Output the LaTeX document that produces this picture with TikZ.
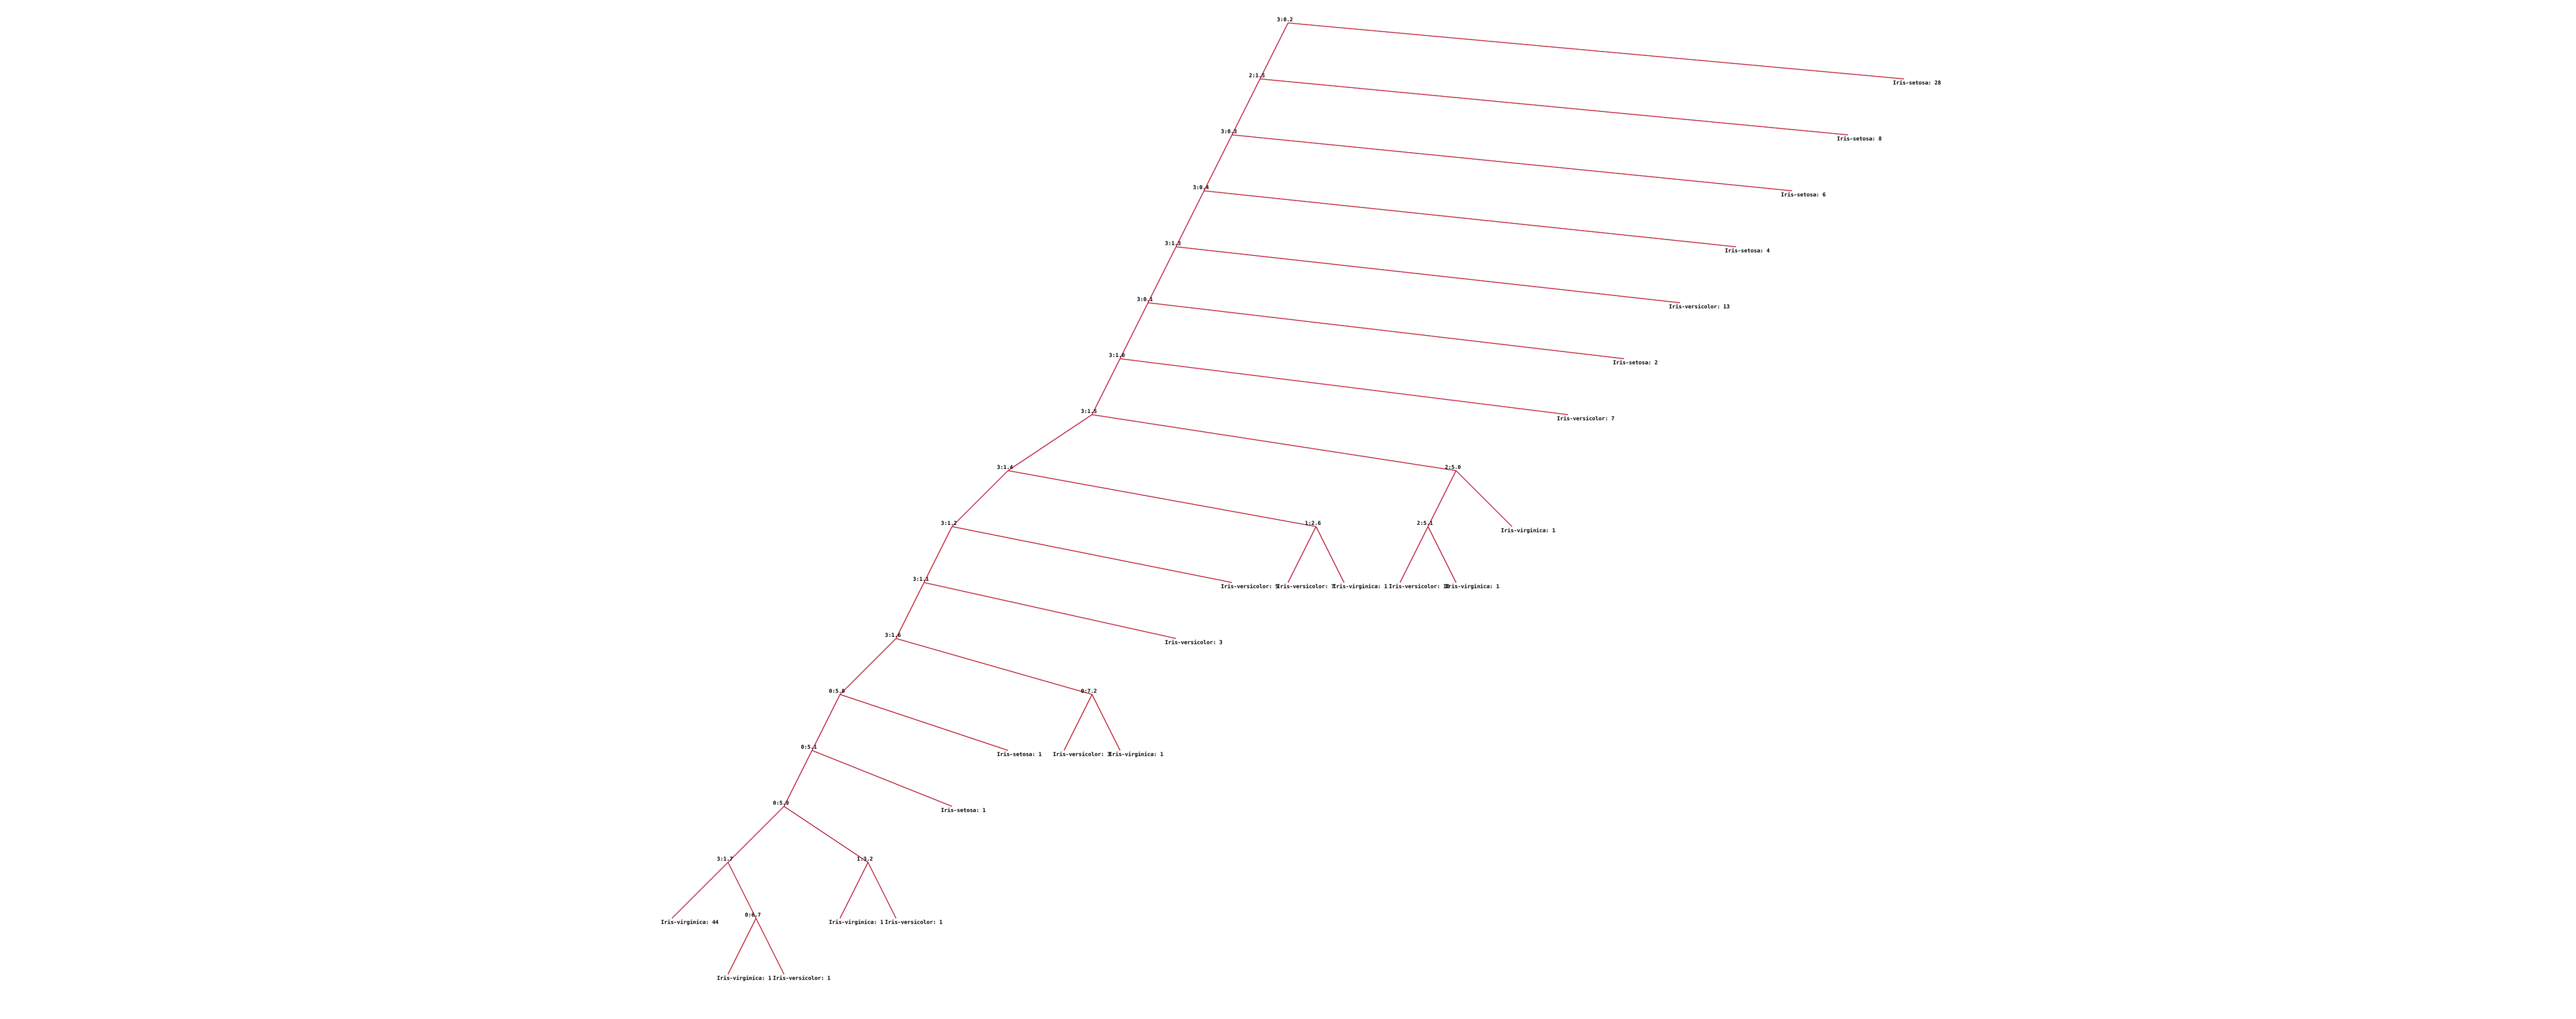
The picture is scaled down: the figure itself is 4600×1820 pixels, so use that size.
\documentclass[tikz,border=0pt]{standalone}
\usepackage{fontspec}
\setmonofont{DejaVu Sans Mono}
\usepackage{tikz}
\usepackage{color}

\definecolor{branchred}{RGB}{186,14,40}

\begin{document}
\begin{tikzpicture}[x=0.02cm,y=-0.02cm,
    branch/.style={draw=branchred,line width=0.75pt},
    split/.style={anchor=south west,inner sep=0pt,xshift=-0.4cm,yshift=0.04cm,
                  font=\ttfamily\bfseries\fontsize{5.4}{6}\selectfont},
    leaf/.style={anchor=north west,inner sep=0pt,xshift=-0.4cm,yshift=-0.04cm,
                 font=\ttfamily\bfseries\fontsize{5.4}{6}\selectfont}]
    \useasboundingbox (0,0) rectangle (4600,1820);
    % split points
    \coordinate (s0) at (2300,41);
    \coordinate (s1) at (2250,141);
    \coordinate (s2) at (2200,241);
    \coordinate (s3) at (2150,341);
    \coordinate (s4) at (2100,441);
    \coordinate (s5) at (2050,541);
    \coordinate (s6) at (2000,641);
    \coordinate (s7) at (1950,741);
    \coordinate (s8) at (1800,841);
    \coordinate (s9) at (2600,841);
    \coordinate (s10) at (1700,941);
    \coordinate (s11) at (2350,941);
    \coordinate (s12) at (2550,941);
    \coordinate (s13) at (1650,1041);
    \coordinate (s14) at (1600,1141);
    \coordinate (s15) at (1500,1241);
    \coordinate (s16) at (1950,1241);
    \coordinate (s17) at (1450,1341);
    \coordinate (s18) at (1400,1441);
    \coordinate (s19) at (1300,1541);
    \coordinate (s20) at (1550,1541);
    \coordinate (s21) at (1350,1641);
    % leaves
    \coordinate (l0) at (3400,141);
    \coordinate (l1) at (3300,241);
    \coordinate (l2) at (3200,341);
    \coordinate (l3) at (3100,441);
    \coordinate (l4) at (3000,541);
    \coordinate (l5) at (2900,641);
    \coordinate (l6) at (2800,741);
    \coordinate (l7) at (2700,941);
    \coordinate (l8) at (2500,1041);
    \coordinate (l9) at (2600,1041);
    \coordinate (l10) at (2300,1041);
    \coordinate (l11) at (2400,1041);
    \coordinate (l12) at (2200,1041);
    \coordinate (l13) at (2100,1141);
    \coordinate (l14) at (1900,1341);
    \coordinate (l15) at (2000,1341);
    \coordinate (l16) at (1800,1341);
    \coordinate (l17) at (1700,1441);
    \coordinate (l18) at (1200,1641);
    \coordinate (l19) at (1500,1641);
    \coordinate (l20) at (1600,1641);
    \coordinate (l21) at (1300,1741);
    \coordinate (l22) at (1400,1741);

    \path[branch]
    (s0) edge (s1)
    edge (l0)
    (s1) edge (s2)
    edge (l1)
    (s2) edge (s3)
    edge (l2)
    (s3) edge (s4)
    edge (l3)
    (s4) edge (s5)
    edge (l4)
    (s5) edge (s6)
    edge (l5)
    (s6) edge (s7)
    edge (l6)
    (s7) edge (s8)
    edge (s9)
    (s8) edge (s10)
    edge (s11)
    (s9) edge (s12)
    edge (l7)
    (s10) edge (s13)
    edge (l12)
    (s11) edge (l10)
    edge (l11)
    (s12) edge (l8)
    edge (l9)
    (s13) edge (s14)
    edge (l13)
    (s14) edge (s15)
    edge (s16)
    (s15) edge (s17)
    edge (l16)
    (s16) edge (l14)
    edge (l15)
    (s17) edge (s18)
    edge (l17)
    (s18) edge (s19)
    edge (s20)
    (s19) edge (l18)
    edge (s21)
    (s20) edge (l19)
    edge (l20)
    (s21) edge (l21)
    edge (l22);

    \node[split] (t0) at (s0) {3:0.2};
    \node[split] (t1) at (s1) {2:1.5};
    \node[split] (t2) at (s2) {3:0.3};
    \node[split] (t3) at (s3) {3:0.4};
    \node[split] (t4) at (s4) {3:1.3};
    \node[split] (t5) at (s5) {3:0.1};
    \node[split] (t6) at (s6) {3:1.0};
    \node[split] (t7) at (s7) {3:1.5};
    \node[split] (t8) at (s8) {3:1.4};
    \node[split] (t9) at (s9) {2:5.0};
    \node[split] (t10) at (s10) {3:1.2};
    \node[split] (t11) at (s11) {1:2.6};
    \node[split] (t12) at (s12) {2:5.1};
    \node[split] (t13) at (s13) {3:1.1};
    \node[split] (t14) at (s14) {3:1.6};
    \node[split] (t15) at (s15) {0:5.0};
    \node[split] (t16) at (s16) {0:7.2};
    \node[split] (t17) at (s17) {0:5.1};
    \node[split] (t18) at (s18) {0:5.9};
    \node[split] (t19) at (s19) {3:1.7};
    \node[split] (t20) at (s20) {1:3.2};
    \node[split] (t21) at (s21) {0:6.7};

    \node[leaf] (c0) at (l0) {Iris-setosa: 28};
    \node[leaf] (c1) at (l1) {Iris-setosa: 8};
    \node[leaf] (c2) at (l2) {Iris-setosa: 6};
    \node[leaf] (c3) at (l3) {Iris-setosa: 4};
    \node[leaf] (c4) at (l4) {Iris-versicolor: 13};
    \node[leaf] (c5) at (l5) {Iris-setosa: 2};
    \node[leaf] (c6) at (l6) {Iris-versicolor: 7};
    \node[leaf] (c7) at (l7) {Iris-virginica: 1};
    \node[leaf] (c8) at (l8) {Iris-versicolor: 10};
    \node[leaf] (c9) at (l9) {Iris-virginica: 1};
    \node[leaf] (c10) at (l10) {Iris-versicolor: 7};
    \node[leaf] (c11) at (l11) {Iris-virginica: 1};
    \node[leaf] (c12) at (l12) {Iris-versicolor: 5};
    \node[leaf] (c13) at (l13) {Iris-versicolor: 3};
    \node[leaf] (c14) at (l14) {Iris-versicolor: 3};
    \node[leaf] (c15) at (l15) {Iris-virginica: 1};
    \node[leaf] (c16) at (l16) {Iris-setosa: 1};
    \node[leaf] (c17) at (l17) {Iris-setosa: 1};
    \node[leaf] (c18) at (l18) {Iris-virginica: 44};
    \node[leaf] (c19) at (l19) {Iris-virginica: 1};
    \node[leaf] (c20) at (l20) {Iris-versicolor: 1};
    \node[leaf] (c21) at (l21) {Iris-virginica: 1};
    \node[leaf] (c22) at (l22) {Iris-versicolor: 1};
\end{tikzpicture}
\end{document}
